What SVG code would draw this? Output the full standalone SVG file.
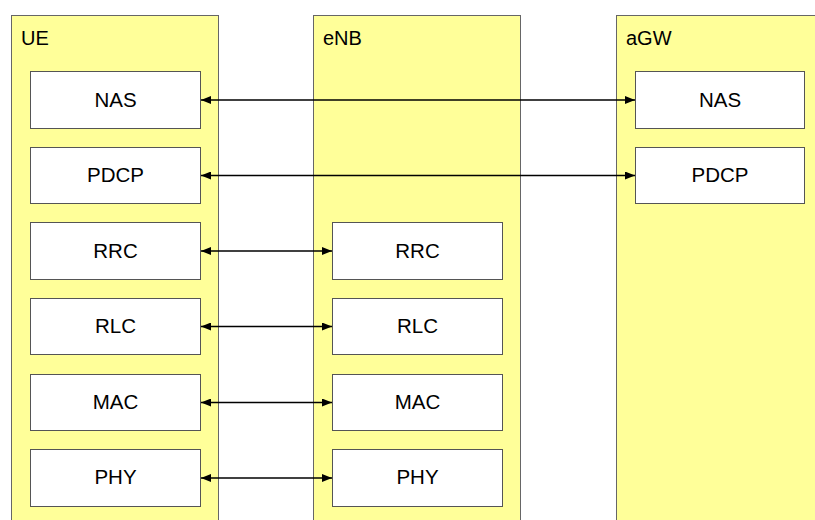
<svg xmlns="http://www.w3.org/2000/svg" width="815" height="520" viewBox="0 0 815 520">
<style>
.cont{fill:#ffff99;stroke:#666;stroke-width:1}
.box{fill:#fff;stroke:#555;stroke-width:1}
.lbl{font-family:"Liberation Sans",Arial,sans-serif;font-size:20px;fill:#000}
.t{font-family:"Liberation Sans",Arial,sans-serif;font-size:20.5px;fill:#000;text-anchor:middle}
.c{stroke:#000;stroke-width:1.5;fill:none;marker-start:url(#a);marker-end:url(#a)}
</style>
<defs>
<marker id="a" viewBox="0 0 10 8" refX="10" refY="4" markerWidth="10" markerHeight="8" markerUnits="userSpaceOnUse" orient="auto-start-reverse">
<path d="M0,0 L10,4 L0,8 Z" fill="#000"/>
</marker>
</defs>
<g id="ue">
<rect class="cont" x="11.5" y="15.5" width="207" height="520"/>
<text class="lbl" x="21" y="45">UE</text>
</g>
<g id="enb">
<rect class="cont" x="313.5" y="15.5" width="207" height="520"/>
<text class="lbl" x="323" y="45">eNB</text>
</g>
<g id="agw">
<rect class="cont" x="616.5" y="15.5" width="207" height="520"/>
<text class="lbl" x="626" y="45">aGW</text>
</g>
<g id="ue-nas"><rect class="box" x="30.5" y="71.5" width="170" height="57"/><text class="t" x="115.5" y="106.5">NAS</text></g>
<g id="ue-pdcp"><rect class="box" x="30.5" y="147.5" width="170" height="56"/><text class="t" x="115.5" y="182">PDCP</text></g>
<g id="ue-rrc"><rect class="box" x="30.5" y="222.5" width="170" height="57"/><text class="t" x="115.5" y="257.5">RRC</text></g>
<g id="ue-rlc"><rect class="box" x="30.5" y="298.5" width="170" height="56"/><text class="t" x="115.5" y="333">RLC</text></g>
<g id="ue-mac"><rect class="box" x="30.5" y="374.5" width="170" height="56"/><text class="t" x="115.5" y="408.5">MAC</text></g>
<g id="ue-phy"><rect class="box" x="30.5" y="449.5" width="170" height="57"/><text class="t" x="115.5" y="484">PHY</text></g>
<g id="enb-rrc"><rect class="box" x="332.5" y="222.5" width="170" height="57"/><text class="t" x="417.5" y="257.5">RRC</text></g>
<g id="enb-rlc"><rect class="box" x="332.5" y="298.5" width="170" height="56"/><text class="t" x="417.5" y="333">RLC</text></g>
<g id="enb-mac"><rect class="box" x="332.5" y="374.5" width="170" height="56"/><text class="t" x="417.5" y="408.5">MAC</text></g>
<g id="enb-phy"><rect class="box" x="332.5" y="449.5" width="170" height="57"/><text class="t" x="417.5" y="484">PHY</text></g>
<g id="agw-nas"><rect class="box" x="635.5" y="71.5" width="169" height="57"/><text class="t" x="720" y="106.5">NAS</text></g>
<g id="agw-pdcp"><rect class="box" x="635.5" y="147.5" width="169" height="56"/><text class="t" x="720" y="182">PDCP</text></g>
<g id="connectors">
<line class="c" x1="201" y1="100" x2="635" y2="100"/>
<line class="c" x1="201" y1="175.5" x2="635" y2="175.5"/>
<line class="c" x1="201" y1="251" x2="332" y2="251"/>
<line class="c" x1="201" y1="326.5" x2="332" y2="326.5"/>
<line class="c" x1="201" y1="402.5" x2="332" y2="402.5"/>
<line class="c" x1="201" y1="478" x2="332" y2="478"/>
</g>
</svg>
